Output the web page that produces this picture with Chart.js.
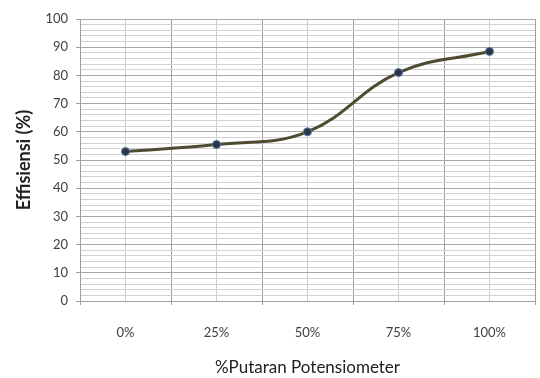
<!DOCTYPE html>
<html>
<head>
<meta charset="utf-8">
<script src="https://cdn.jsdelivr.net/npm/chart.js@4/dist/chart.umd.min.js"></script>
<style>
  html,body{margin:0;padding:0;background:#fff;}
  #wrap{width:540px;height:378px;}
</style>
</head>
<body>
<div id="wrap"><canvas id="chart1" width="540" height="378"></canvas></div>
<script>
// data
const categories = ['0%', '25%', '50%', '75%', '100%'];
const efisiensi = [53, 55.5, 60, 81, 88.5];
const yMin = 0, yMax = 100, yStep = 2, yMajor = 10;

const tickFont = { family: 'Lato', size: 13 };
const isMajor = v => v % yMajor === 0;

const ctx = document.getElementById('chart1').getContext('2d');
const chart = new Chart(ctx, {
  type: 'line',
  data: {
    labels: categories,
    datasets: [{
      label: 'Effisiensi',
      data: efisiensi,
      xAxisID: 'x',
      yAxisID: 'y',
      borderColor: '#4e4b31',
      borderWidth: 3,
      tension: 0.4,
      fill: false,
      pointRadius: 4,
      pointBackgroundColor: '#2c3547',
      pointBorderColor: '#5a7aa8',
      pointBorderWidth: 1
    }]
  },
  options: {
    responsive: false,
    animation: false,
    devicePixelRatio: 1,
    layout: { padding: { top: 19, right: 0, left: 0, bottom: 0 } },
    plugins: { legend: { display: false }, tooltip: { enabled: false } },
    scales: {
      x: {
        type: 'category',
        position: 'bottom',
        offset: true,
        grid: { offset: true, color: '#a0a0a0', lineWidth: 1, tickLength: 4, tickColor: '#a0a0a0' },
        border: { color: '#a0a0a0' },
        ticks: { font: tickFont, color: '#404040', padding: 20, maxRotation: 0 },
        title: { display: true, text: '%Putaran Potensiometer', color: '#222', font: { family: 'Lato', size: 17 }, padding: { top: 0, bottom: 0 } },
        afterFit: s => { s.height = 77; }
      },
      x2: {
        type: 'category',
        position: 'top',
        offset: true,
        grid: { offset: false, color: '#cdcdcd', drawTicks: false },
        border: { display: false },
        ticks: { display: false },
        afterFit: s => { s.height = 0; }
      },
      y: {
        min: yMin,
        max: yMax,
        grid: {
          color: c => isMajor(c.tick.value) ? '#a8a8a8' : '#d2d2d2',
          tickColor: c => isMajor(c.tick.value) ? '#a0a0a0' : 'rgba(0,0,0,0)',
          tickLength: 4
        },
        border: { color: '#a0a0a0' },
        ticks: {
          stepSize: yStep,
          autoSkip: false,
          font: tickFont,
          color: '#404040',
          padding: 8,
          callback: v => isMajor(v) ? v : ''
        },
        title: { display: true, text: 'Effisiensi (%)', color: '#222', font: { family: 'Lato', size: 18, weight: 'bold' }, padding: { top: 13, bottom: 0 } },
        afterFit: s => { s.width = 80; }
      }
    }
  }
});
</script>
</body>
</html>
